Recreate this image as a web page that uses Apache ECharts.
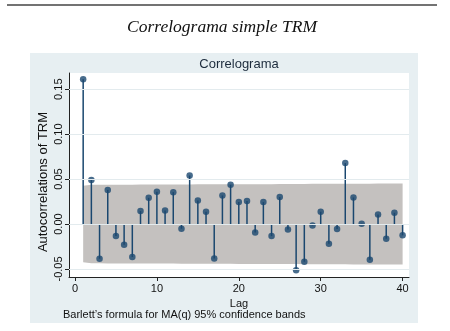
<!DOCTYPE html>
<html><head><meta charset="utf-8">
<script src="https://cdn.jsdelivr.net/npm/echarts@6/dist/echarts.min.js"></script>
<style>html,body{margin:0;padding:0;background:#fff}#c{width:450px;height:331px}</style>
</head><body><div id="c"></div>
<script>
var lags = [1,2,3,4,5,6,7,8,9,10,11,12,13,14,15,16,17,18,19,20,21,22,23,24,25,26,27,28,29,30,31,32,33,34,35,36,37,38,39,40];
var acf = [0.161,0.049,-0.0386,0.038,-0.0134,-0.023,-0.0367,0.0144,0.0292,0.0359,0.0151,0.0355,-0.0052,0.054,0.0263,0.0137,-0.0382,0.0318,0.0437,0.0244,0.0255,-0.0093,0.0244,-0.0134,0.030,-0.006,-0.0515,-0.0419,-0.0015,0.0137,-0.0219,-0.0056,0.0678,0.0296,0.0003,-0.0397,0.0107,-0.0163,0.0126,-0.0126];
var band = [0.0425,0.0436,0.0437,0.0438,0.0438,0.0438,0.0438,0.0439,0.0439,0.0439,0.0440,0.0440,0.0441,0.0441,0.0442,0.0442,0.0442,0.0443,0.0443,0.0444,0.0444,0.0444,0.0444,0.0444,0.0445,0.0445,0.0445,0.0446,0.0447,0.0447,0.0447,0.0447,0.0447,0.0449,0.0449,0.0449,0.0450,0.0450,0.0450,0.0450];
var xTicks = [0,10,20,30,40];
var yTicks = [-0.05,0,0.05,0.10,0.15];
var mainTitle = 'Correlograma simple TRM';
var subTitle = 'Correlograma';
var xName = 'Lag';
var yName = 'Autocorrelations of TRM';
var note = 'Barlett\u2019s formula for MA(q) 95% confidence bands';

var navy = '#1a476f';
var chart = echarts.init(document.getElementById('c'));
var pts = lags.map(function(l,i){return [l, acf[i]];});
chart.setOption({
  animation: false,
  backgroundColor: '#fff',
  graphic: [
    {type:'line', shape:{x1:7,y1:5,x2:437,y2:5}, style:{stroke:'#444',lineWidth:1.5}, z:0},
    {type:'rect', shape:{x:30,y:53,width:388,height:270}, style:{fill:'#e7eff2'}, z:-10, silent:true},
    {type:'text', x:222, y:27, style:{text:mainTitle, font:'italic 17.5px "Liberation Serif"', fill:'#111', align:'center', verticalAlign:'middle'}},
    {type:'text', x:239, y:64, style:{text:subTitle, font:'13px "Liberation Sans"', fill:'#1c2b3c', align:'center', verticalAlign:'middle'}},
    {type:'text', x:43, y:182, rotation:Math.PI/2, style:{text:yName, font:'13px "Liberation Sans"', fill:'#111', align:'center', verticalAlign:'middle'}},
    {type:'text', x:63, y:315, style:{text:note, font:'11px "Liberation Sans"', fill:'#111', align:'left', verticalAlign:'middle'}}
  ],
  grid: {left:69, top:73, right:41, bottom:54, show:true, backgroundColor:'#fff', borderWidth:0},
  xAxis: {
    type:'value', min:-0.73, max:40.78,
    name:xName, nameLocation:'middle', nameGap:14,
    nameTextStyle:{fontFamily:'Liberation Sans', fontSize:11, color:'#111'},
    axisLine:{show:true, onZero:false, lineStyle:{color:'#222', width:1}},
    axisTick:{show:true, length:4, customValues:xTicks, lineStyle:{color:'#222'}},
    axisLabel:{customValues:xTicks, fontFamily:'Liberation Sans', fontSize:11, color:'#111', margin:6},
    splitLine:{show:false}
  },
  yAxis: {
    type:'value', min:-0.0589, max:0.168,
    axisLine:{show:true, onZero:false, lineStyle:{color:'#222', width:1}},
    axisTick:{show:true, length:4, customValues:yTicks, lineStyle:{color:'#222'}},
    axisLabel:{customValues:yTicks, rotate:90, fontFamily:'Liberation Sans', fontSize:11, color:'#111', margin:5,
      formatter:function(v){return v.toFixed(2);}},
    splitLine:{show:false}
  },
  series: [
    {type:'line', data:[], z:1, silent:true,
     markLine:{symbol:'none', silent:true, label:{show:false},
       lineStyle:{color:'#e3ebee', width:1, type:'solid'},
       data: yTicks.map(function(v){return {yAxis:v};})}},
    {type:'custom', z:2, silent:true, data:[0],
     renderItem:function(params, api){
       var up = lags.map(function(l,i){return api.coord([l, band[i]]);});
       var lo = lags.map(function(l,i){return api.coord([l, -band[i]]);}).reverse();
       return {type:'polygon', shape:{points:up.concat(lo)}, style:{fill:'#c4c1bf'}};
     }},
    {type:'bar', z:3, barWidth:1.5, data:pts, itemStyle:{color:navy}, silent:true},
    {type:'scatter', z:4, symbol:'circle', symbolSize:6.5, data:pts, itemStyle:{color:navy}, silent:true}
  ]
});
</script></body></html>
